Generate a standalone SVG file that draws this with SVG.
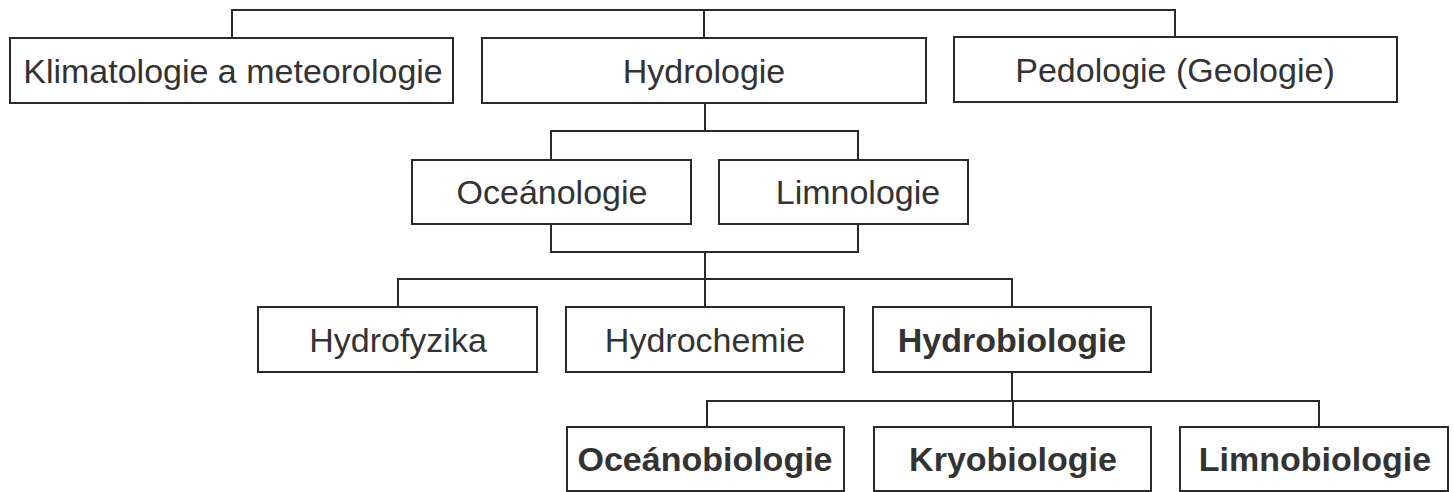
<svg xmlns="http://www.w3.org/2000/svg" width="1454" height="492" viewBox="0 0 1454 492">
<style>
.bg{fill:#ffffff}
.box{fill:#ffffff;stroke:#2a2a2a;stroke-width:2}
.ln{fill:none;stroke:#2a2a2a;stroke-width:2}
.t{font-family:"Liberation Sans",Arial,sans-serif;font-size:34px;fill:#333333;text-anchor:middle}
.b{font-weight:bold}
</style>
<rect class="bg" x="0" y="0" width="1454" height="492"/>
<g id="connectors">
<path class="ln" d="M232 38 V10 H1175 V37 M704 10 V38"/>
<path class="ln" d="M705 103 V131 M551 160 V131 H858 V160"/>
<path class="ln" d="M551 224 V252 H858 V224 M705 252 V307 M398 307 V279 H1012 V307"/>
<path class="ln" d="M1012 372 V401 M707 428 V401 H1319 V427 M1013 401 V427"/>
</g>
<g id="klimatologie"><rect class="box" x="10" y="38" width="443" height="65"/><text class="t" x="233" y="83">Klimatologie a meteorologie</text></g>
<g id="hydrologie"><rect class="box" x="482" y="38" width="444" height="65"/><text class="t" x="704" y="83">Hydrologie</text></g>
<g id="pedologie"><rect class="box" x="954" y="37" width="443" height="65"/><text class="t" x="1175" y="82">Pedologie (Geologie)</text></g>
<g id="oceanologie"><rect class="box" x="412" y="160" width="279" height="64"/><text class="t" x="552" y="204">Oceánologie</text></g>
<g id="limnologie"><rect class="box" x="719" y="160" width="249" height="64"/><text class="t" x="858" y="204">Limnologie</text></g>
<g id="hydrofyzika"><rect class="box" x="258" y="307" width="279" height="65"/><text class="t" x="398" y="352">Hydrofyzika</text></g>
<g id="hydrochemie"><rect class="box" x="566" y="307" width="278" height="65"/><text class="t" x="705" y="352">Hydrochemie</text></g>
<g id="hydrobiologie"><rect class="box" x="873" y="307" width="278" height="65"/><text class="t b" x="1012" y="352">Hydrobiologie</text></g>
<g id="oceanobiologie"><rect class="box" x="567" y="427" width="277" height="64"/><text class="t b" x="705" y="471">Oceánobiologie</text></g>
<g id="kryobiologie"><rect class="box" x="874" y="427" width="277" height="64"/><text class="t b" x="1013" y="471">Kryobiologie</text></g>
<g id="limnobiologie"><rect class="box" x="1180" y="427" width="268" height="64"/><text class="t b" x="1315" y="471">Limnobiologie</text></g>
</svg>
